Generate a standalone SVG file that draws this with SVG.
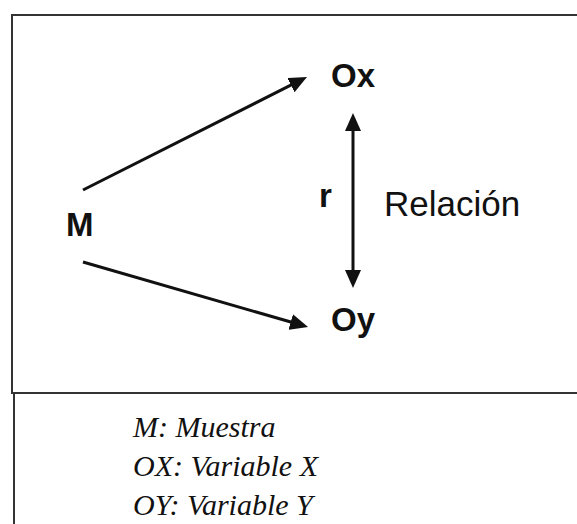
<svg xmlns="http://www.w3.org/2000/svg" width="577" height="524" viewBox="0 0 577 524">
<style>
.box{fill:#fff;stroke:#333;stroke-width:2}
.lbl{font-family:"Liberation Sans",Arial,sans-serif;font-size:33px;fill:#111}
.b{font-weight:bold}
.rel{font-size:35px}
.leg{font-family:"Liberation Serif","Times New Roman",serif;font-style:italic;font-size:30px;fill:#111}
.con{stroke:#111;stroke-width:3;fill:none}
</style>
<defs>
<marker id="ah" markerUnits="userSpaceOnUse" markerWidth="19" markerHeight="16" refX="1" refY="8" orient="auto-start-reverse" viewBox="0 0 19 16">
<path d="M0,0 L18,8 L0,16 z" fill="#111"/>
</marker>
</defs>
<rect width="577" height="524" fill="#fff"/>
<rect class="box" x="12" y="15" width="600" height="378"/>
<rect class="box" x="14" y="393" width="600" height="200"/>
<g id="connectors">
<line class="con" x1="83" y1="190" x2="291.8" y2="84.7" marker-end="url(#ah)"/>
<line class="con" x1="83" y1="262" x2="291.7" y2="322.3" marker-end="url(#ah)"/>
<line class="con" x1="353" y1="130" x2="353" y2="271" marker-start="url(#ah)" marker-end="url(#ah)"/>
</g>
<g id="M"><text class="lbl b" x="66" y="236">M</text></g>
<g id="Ox"><text class="lbl b" x="331" y="87">Ox</text></g>
<g id="Oy"><text class="lbl b" x="331" y="331">Oy</text></g>
<g id="r"><text class="lbl b" x="319" y="207">r</text></g>
<g id="relacion"><text class="lbl rel" x="384" y="216">Relación</text></g>
<g id="legend">
<text class="leg" x="133" y="437">M: Muestra</text>
<text class="leg" x="133" y="476">OX: Variable X</text>
<text class="leg" x="133" y="515">OY: Variable Y</text>
</g>
</svg>
